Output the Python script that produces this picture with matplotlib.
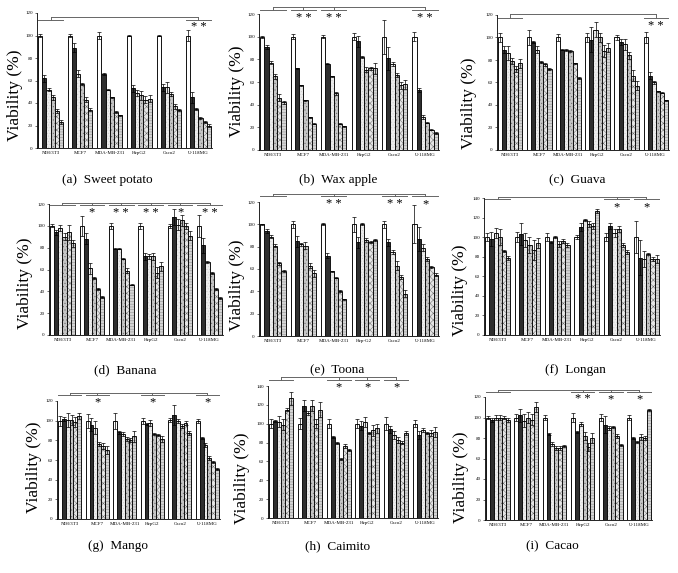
import matplotlib
matplotlib.use("Agg")
import matplotlib.pyplot as plt

plt.rcParams["font.family"] = ["Liberation Serif", "DejaVu Serif"]
plt.rcParams["hatch.linewidth"] = 0.35

W, H = 678, 573

cell_lines = ["NIH/3T3", "MCF7", "MDA-MB-231", "HepG2", "Caco2", "U-118MG"]
cell_lines_e = ["NIH/3T3", "MCF7", "MDA-MB-231", "Hep-G2", "Caco2", "U-118MG"]

# mean viability (%) per cell line, 6 concentrations each
sweet_potato = [[100, 62, 52, 45, 33, 23], [100, 89, 66, 57, 43, 34], [100, 66, 52, 45, 32, 29],
                [100, 53, 49, 47, 43, 44], [100, 54, 54, 48, 37, 34], [100, 45, 35, 27, 23, 20]]
sweet_potato_err = [[1, 3, 1, 2, 2, 1.5], [1, 4, 3, 1, 2, 1.5], [3, 1, .5, .5, .5, .5],
                    [.5, 3, 3, 4, 3, 3], [.5, 3, 5, 2, 2, 1], [5, 5, 1, 1, 1, 1]]

wax_apple = [[100, 91, 77, 65, 46, 42], [100, 72, 57, 44, 29, 23], [100, 76, 65, 50, 23, 21],
             [100, 96, 82, 71, 72, 72], [100, 81, 76, 66, 57, 58], [100, 53, 29, 24, 18, 15]]
wax_apple_err = [[1, 2, 1.5, 2, 3, 1.5], [2, .5, .5, .5, .5, .5], [1.5, .5, .5, 1.5, .5, .5],
                 [3, 5, .5, 2, 1, 5], [15, 10, 2, 2, 3, 4], [4, 1.5, 1.5, .5, .5, .5]]

guava = [[100, 89, 86, 79, 72, 77], [100, 96, 89, 78, 76, 72], [100, 89, 89, 88, 77, 64],
         [100, 98, 107, 100, 88, 91], [100, 96, 94, 84, 66, 57], [100, 66, 60, 52, 51, 44]]
guava_err = [[4, 3, 6, 3, 3, 4], [7, 1, 3, 1, 1, .5], [3, .5, 1, .5, .5, .5],
             [4, 11, 7, 4, 5, 4], [2, 3, 5, 3, 5, 4], [5, 3, 1, .5, .5, .5]]

banana = [[100, 94, 98, 90, 94, 84], [100, 88, 61, 52, 42, 35], [100, 79, 79, 70, 59, 46],
          [100, 72, 72, 72, 57, 63], [100, 108, 101, 105, 100, 91], [100, 82, 67, 57, 42, 34]]
banana_err = [[1.5, 2, 3, 3, 7, 3], [9, 5, 5, 1, 1, 1], [3, .5, .5, .5, 2, .5],
              [3, 3, 2, 3, 5, 4], [2, 7, 5, 5, 3, 4], [10, 7, 1, 1, 1, 1]]

toona = [[100, 94, 89, 81, 65, 58], [100, 85, 82, 81, 63, 56], [100, 72, 58, 52, 40, 33],
         [100, 84, 100, 86, 84, 86], [100, 84, 75, 63, 53, 38], [100, 87, 79, 69, 62, 55]]
toona_err = [[.5, 1.5, 1.5, 1, 1, 1], [3, 5, 1, 3, 2, 3], [1, 2, .5, .5, 1, .5],
             [7, 5, 1, 2, 1, 1], [3, 3, 2, 4, 2, 3], [17, 11, 3, 2, 1, 1]]

longan = [[100, 98, 104, 100, 86, 79], [100, 103, 97, 92, 87, 94], [100, 95, 100, 93, 96, 92],
          [100, 110, 118, 113, 111, 127], [100, 111, 104, 108, 92, 85], [100, 79, 78, 83, 78, 78]]
longan_err = [[4, 7, 5, 8, 1, 2], [5, 11, 7, 8, 10, 5], [4, 1, 1, 3, 2, 2],
              [2, 4, 1, 3, 3, 2], [4, 3, 4, 3, 2, 2], [16, 18, 8, 1, 2, 4]]

mango = [[100, 102, 101, 101, 99, 105], [100, 96, 93, 76, 74, 70], [100, 88, 86, 81, 80, 84],
         [100, 97, 98, 86, 85, 81], [101, 106, 100, 95, 98, 87], [100, 82, 75, 62, 58, 51]]
mango_err = [[5, 2, 7, 5, 5, 3], [7, 7, 7, 2, 3, 4], [8, 2, 2, 2, 2, 6],
             [3, 1, 3, 1, 1, 3], [2, 10, 2, 2, 2, 2], [2, 1, 2, 2, 1, 1]]

caimito = [[100, 103, 102, 99, 115, 127], [100, 119, 111, 119, 100, 115], [100, 86, 80, 63, 76, 72],
           [100, 98, 102, 90, 93, 95], [100, 94, 88, 83, 80, 90], [100, 88, 93, 90, 90, 91]]
caimito_err = [[5, 1, 6, 6, 2, 7], [6, 6, 2, 6, 5, 8], [5, 1, 1, 1, 2, 1],
               [5, 5, 5, 1, 6, 5], [7, 4, 4, 3, 2, 2], [4, 4, 2, 1, 3, 5]]

cacao = [[100, 98, 100, 100, 100, 98], [100, 102, 97, 100, 98, 110], [100, 84, 74, 70, 70, 72],
         [100, 86, 94, 82, 71, 80], [100, 93, 90, 91, 82, 73], [100, 80, 76, 81, 80, 107]]
cacao_err = [[1, 2, 2, 2, 1, 2], [3, 6, 6, 5, 5, 5], [2, 1, 2, 2, 2, 1],
             [4, 1, 2, 4, 4, 5], [3, 8, 2, 1, 2, 1], [2, 1, 1, 3, 2, 1]]

captions = ["(a)  Sweet potato", "(b)  Wax apple", "(c)  Guava", "(d)  Banana", "(e)  Toona",
            "(f)  Longan", "(g)  Mango", "(h)  Caimito", "(i)  Cacao"]
# significant groups (index -> stars) compared with NIH/3T3
significance = [{5: "* *"}, {1: "* *", 2: "* *", 5: "* *"}, {5: "* *"},
                {1: "*", 2: "* *", 3: "* *", 4: "*", 5: "* *"}, {2: "* *", 4: "* *", 5: "*"},
                {4: "*", 5: "*"}, {1: "*", 3: "*", 5: "*"}, {2: "*", 3: "*", 4: "*"},
                {3: "* *", 4: "*", 5: "*"}]

panels = [
    # values, errors, ymax, axes box px (left, top, right, bottom), ylabel px, caption px, bracket (top, seg)
    (sweet_potato, sweet_potato_err, 120, (37, 13, 212, 148), (15, 95), (107, 180), (116.5, 114)),
    (wax_apple, wax_apple_err, 120, (259, 14, 439, 150), (237, 91), (338, 180), (126, 123.5)),
    (guava, guava_err, 120, (497, 15, 669, 150), (469, 103), (577, 180), (120.5, 117)),
    (banana, banana_err, 120, (49, 204, 223, 335), (25, 283), (125, 370), (121, 119)),
    (toona, toona_err, 120, (259, 202, 439, 336), (237, 285), (337, 370), (127, 125)),
    (longan, longan_err, 140, (484, 198, 660, 335), (460, 290), (575, 370), (141, 138.5)),
    (mango, mango_err, 120, (57, 401, 220, 519), (34, 467), (118, 546), (128, 126)),
    (caimito, caimito_err, 140, (268, 386, 438, 518), (242, 478), (338, 546), (149.5, 146)),
    (cacao, cacao_err, 120, (485, 397, 652, 520), (461, 477), (552, 546), (127, 125)),
]

bar_styles = [
    dict(fc="white", hatch=None, hc="none"),
    dict(fc="#2e2e2e", hatch=None, hc="none"),
    dict(fc="#ececec", hatch="......", hc="#c8c8c8"),
    dict(fc="#c4c4c4", hatch=".....", hc="#666666"),
    dict(fc="#e4e4e4", hatch="xxxxx", hc="#6a6a6a"),
    dict(fc="#d4d4d4", hatch="------", hc="#888888"),
]

GROUP_STEP = 7.2

fig = plt.figure(figsize=(W / 100, H / 100), dpi=100)

for p, (vals, errs, ymax, box, ylab, cap, brk) in enumerate(panels):
    left, top, right, bottom = box
    ax = fig.add_axes([left / W, 1 - bottom / H, (right - left) / W, (bottom - top) / H])
    for g in range(6):
        for k in range(6):
            x = g * GROUP_STEP + k
            st = bar_styles[k]
            ax.bar(x, vals[g][k], width=1.0, color=st["fc"], hatch=st["hatch"],
                   edgecolor=st["hc"], linewidth=0, zorder=2)
            ax.bar(x, vals[g][k], width=1.0, fill=False, edgecolor="#111111", linewidth=0.7, zorder=3)
            ax.errorbar(x, vals[g][k], yerr=errs[g][k], fmt="none", ecolor="black",
                        elinewidth=0.5, capsize=1.5, capthick=0.5, zorder=4)
    centers = [g * GROUP_STEP + 2.5 for g in range(6)]
    ax.set_xticks(centers)
    ax.set_xticklabels(cell_lines_e if p == 4 else cell_lines, fontsize=3.6)
    ax.tick_params(axis="x", length=0, pad=2)
    ax.set_ylim(0, ymax)
    ax.set_yticks(range(0, ymax + 1, 20))
    ax.tick_params(axis="y", labelsize=3.6, length=1.5, width=0.4, pad=1.5)
    ax.set_xlim(-0.8, 5 * GROUP_STEP + 5.8)
    for s in ("top", "right"):
        ax.spines[s].set_visible(False)
    for s in ("left", "bottom"):
        ax.spines[s].set_linewidth(0.6)

    # significance brackets
    top_y, seg_y = brk
    sig = significance[p]
    last = max(sig)
    ax.plot([centers[0], centers[last]], [top_y, top_y], color="#666666", lw=0.7, clip_on=False)
    for g in [0] + sorted(sig):
        ax.plot([g * GROUP_STEP - 0.5, g * GROUP_STEP + 5.5], [seg_y, seg_y],
                color="#666666", lw=0.7, clip_on=False)
        ax.plot([centers[g], centers[g]], [seg_y, top_y], color="#666666", lw=0.7, clip_on=False)
        if g in sig:
            ax.text(centers[g], seg_y - 1.5, sig[g], ha="center", va="top", fontsize=9,
                    clip_on=False)

    fig.text(ylab[0] / W, 1 - ylab[1] / H, "Viability (%)", rotation=90, ha="center",
             va="center", fontsize=12.5)
    fig.text(cap[0] / W, 1 - cap[1] / H, captions[p], ha="center", va="center", fontsize=9.5)

fig.savefig("out.png", dpi=100)
